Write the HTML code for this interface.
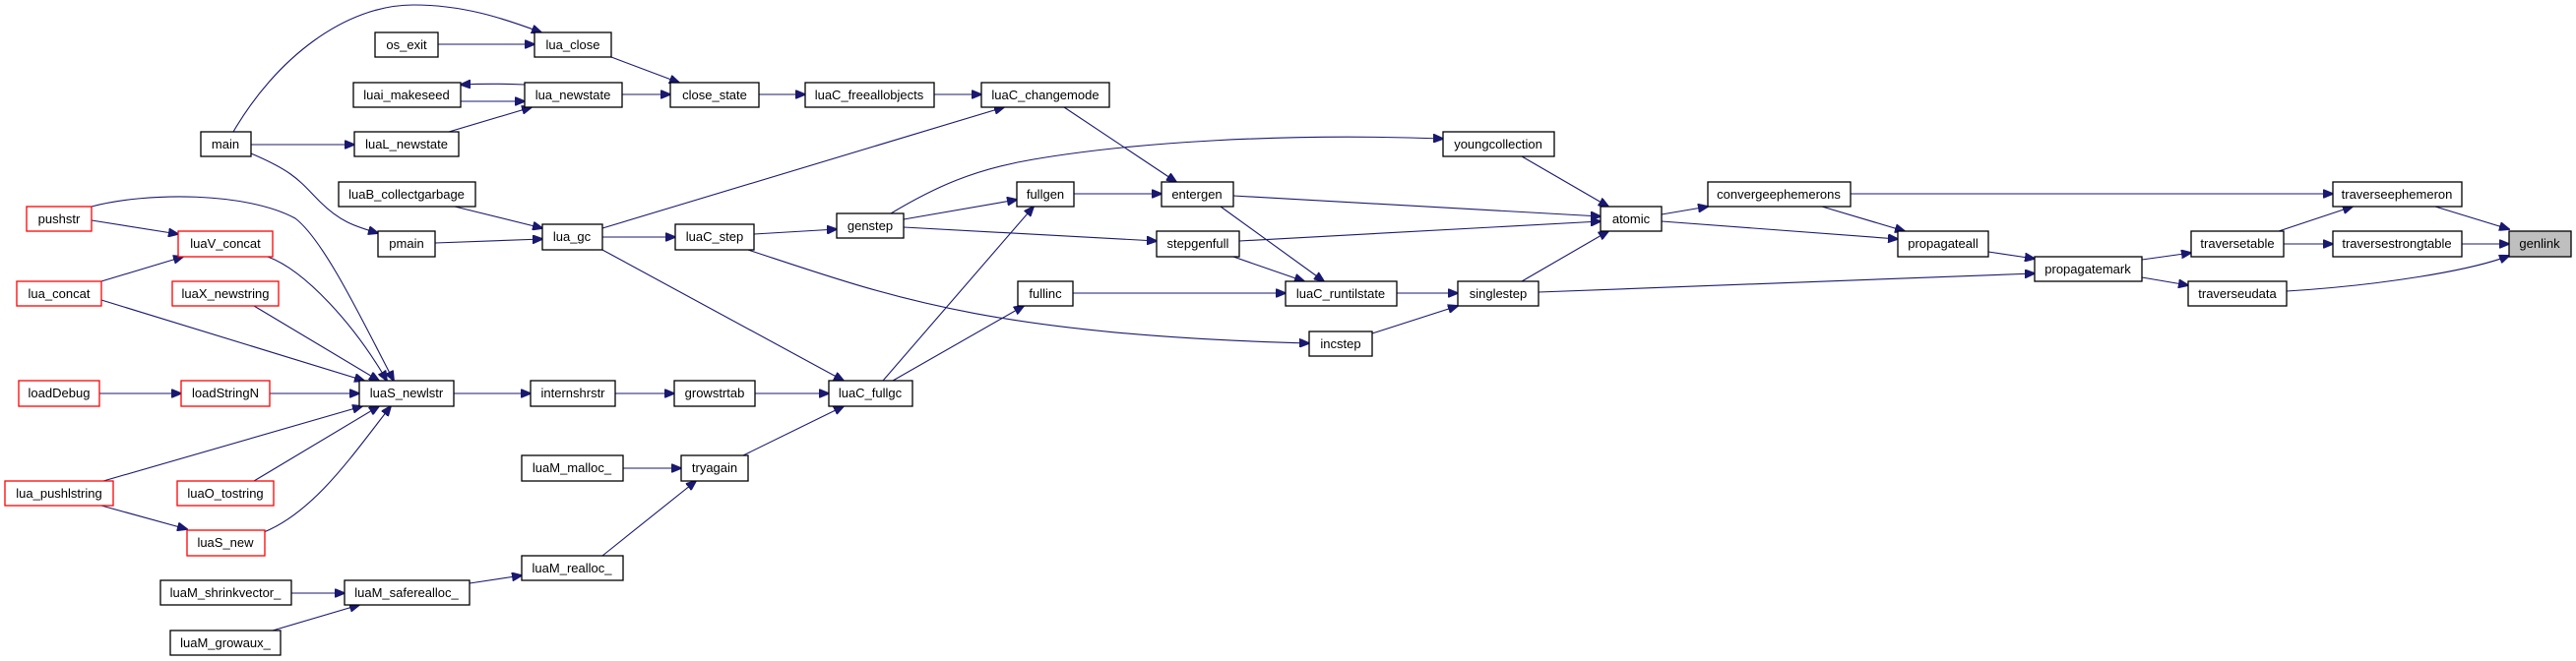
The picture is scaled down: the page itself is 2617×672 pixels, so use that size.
<!DOCTYPE html>
<html><head><meta charset="utf-8"><style>
html,body{margin:0;padding:0;background:#fff;}
svg{display:block}
text{font-family:"Liberation Sans",sans-serif;font-size:13px;fill:#000;text-anchor:middle}
.e{fill:none;stroke:#191970;stroke-width:1.1}
.n{fill:#fff;stroke:#000;stroke-width:1.3}
.r{fill:#fff;stroke:#ff0000;stroke-width:1.3}
</style></head><body>
<svg width="2617" height="672" viewBox="0 0 2617 672" xmlns="http://www.w3.org/2000/svg">
<defs><marker id="a" markerWidth="11" markerHeight="9" refX="10" refY="4.5" orient="auto" markerUnits="userSpaceOnUse"><path d="M0,0 L11,4.5 L0,9 z" fill="#191970" stroke="#191970"/></marker></defs>
<g marker-end="url(#a)">
<path class="e" d="M237,134 C280,60 350,5 420,5 C470,5 510,18 550,33"/>
<path class="e" d="M445,45 L543,45"/>
<path class="e" d="M533,86 C510,85 490,85 468,86"/>
<path class="e" d="M468,103 C490,103 510,103 533,103"/>
<path class="e" d="M456,134 L540,109"/>
<path class="e" d="M255,147 L360,147"/>
<path class="e" d="M255,156 C300,175 305,185 325,205 C345,225 360,230 384,237"/>
<path class="e" d="M621,58 L690,84"/>
<path class="e" d="M632,96 L681,96"/>
<path class="e" d="M771,96 L818,96"/>
<path class="e" d="M949,96 L997,96"/>
<path class="e" d="M612,232 L1020,109"/>
<path class="e" d="M1081,109 L1195,185"/>
<path class="e" d="M462,210 L551,232"/>
<path class="e" d="M442,247 L551,243"/>
<path class="e" d="M612,241 L686,241"/>
<path class="e" d="M612,254 L857,387"/>
<path class="e" d="M766,238 L850,233"/>
<path class="e" d="M760,254 C900,300 1000,340 1330,349"/>
<path class="e" d="M918,223 L1033,203"/>
<path class="e" d="M905,217 C950,190 990,172 1050,162 C1150,145 1300,135 1466,141"/>
<path class="e" d="M918,231 L1175,245"/>
<path class="e" d="M1253,199 L1626,220"/>
<path class="e" d="M1259,245 L1626,225"/>
<path class="e" d="M1091,197 L1180,197"/>
<path class="e" d="M1240,210 L1345,286"/>
<path class="e" d="M1253,261 L1325,286"/>
<path class="e" d="M1090,298 L1306,298"/>
<path class="e" d="M897,387 L1050,210"/>
<path class="e" d="M907,387 L1040,311"/>
<path class="e" d="M767,400 L842,400"/>
<path class="e" d="M755,463 L857,413"/>
<path class="e" d="M625,400 L685,400"/>
<path class="e" d="M461,400 L539,400"/>
<path class="e" d="M633,476 L692,476"/>
<path class="e" d="M612,565 L707,489"/>
<path class="e" d="M477,593 L530,585"/>
<path class="e" d="M296,603 L350,603"/>
<path class="e" d="M277,641 L365,615"/>
<path class="e" d="M1546,159 L1634,210"/>
<path class="e" d="M1688,218 L1735,210"/>
<path class="e" d="M1688,225 L1928,243"/>
<path class="e" d="M1851,210 L1935,235"/>
<path class="e" d="M1880,197 L2370,197"/>
<path class="e" d="M1419,298 L1481,298"/>
<path class="e" d="M1394,339 L1481,311"/>
<path class="e" d="M1546,286 L1634,235"/>
<path class="e" d="M1563,297 L2067,278"/>
<path class="e" d="M2020,256 L2067,263"/>
<path class="e" d="M2176,264 L2226,257"/>
<path class="e" d="M2176,282 L2223,290"/>
<path class="e" d="M2315,235 L2390,210"/>
<path class="e" d="M2320,248 L2370,248"/>
<path class="e" d="M2474,210 L2549,233"/>
<path class="e" d="M2501,248 L2549,248"/>
<path class="e" d="M2323,296 C2420,290 2510,275 2549,260"/>
<path class="e" d="M93,210 C150,195 250,195 300,222 C330,245 370,330 400,387"/>
<path class="e" d="M93,224 L181,238"/>
<path class="e" d="M103,286 L186,261"/>
<path class="e" d="M272,261 C310,275 360,330 393,387"/>
<path class="e" d="M103,305 L370,387"/>
<path class="e" d="M258,311 L385,387"/>
<path class="e" d="M101,400 L184,400"/>
<path class="e" d="M274,400 L365,400"/>
<path class="e" d="M105,489 L368,413"/>
<path class="e" d="M258,489 L385,413"/>
<path class="e" d="M268,541 C320,520 360,460 397,413"/>
<path class="e" d="M103,514 L190,538"/>
</g>
<g>
<rect class="n" x="381" y="33" width="64" height="25"/><text x="413" y="50">os_exit</text>
<rect class="n" x="543" y="33" width="78" height="25"/><text x="582" y="50">lua_close</text>
<rect class="n" x="359" y="84" width="109" height="25"/><text x="413" y="101">luai_makeseed</text>
<rect class="n" x="533" y="84" width="99" height="25"/><text x="582" y="101">lua_newstate</text>
<rect class="n" x="204" y="134" width="51" height="25"/><text x="229" y="151">main</text>
<rect class="n" x="360" y="134" width="106" height="25"/><text x="413" y="151">luaL_newstate</text>
<rect class="n" x="344" y="185" width="139" height="25"/><text x="413" y="202">luaB_collectgarbage</text>
<rect class="n" x="551" y="228" width="61" height="26"/><text x="581" y="245">lua_gc</text>
<rect class="n" x="384" y="235" width="58" height="26"/><text x="413" y="252">pmain</text>
<rect class="r" x="27" y="210" width="66" height="25"/><text x="60" y="227">pushstr</text>
<rect class="r" x="181" y="235" width="96" height="26"/><text x="229" y="252">luaV_concat</text>
<rect class="r" x="17" y="286" width="86" height="25"/><text x="60" y="303">lua_concat</text>
<rect class="r" x="175" y="286" width="108" height="25"/><text x="229" y="303">luaX_newstring</text>
<rect class="r" x="19" y="387" width="82" height="26"/><text x="60" y="404">loadDebug</text>
<rect class="r" x="184" y="387" width="90" height="26"/><text x="229" y="404">loadStringN</text>
<rect class="n" x="365" y="387" width="96" height="26"/><text x="413" y="404">luaS_newlstr</text>
<rect class="n" x="539" y="387" width="86" height="26"/><text x="582" y="404">internshrstr</text>
<rect class="n" x="530" y="463" width="103" height="26"/><text x="581" y="480">luaM_malloc_</text>
<rect class="r" x="5" y="489" width="110" height="25"/><text x="60" y="506">lua_pushlstring</text>
<rect class="r" x="180" y="489" width="98" height="25"/><text x="229" y="506">luaO_tostring</text>
<rect class="r" x="190" y="539" width="79" height="26"/><text x="229" y="556">luaS_new</text>
<rect class="n" x="530" y="565" width="103" height="25"/><text x="581" y="582">luaM_realloc_</text>
<rect class="n" x="163" y="590" width="133" height="25"/><text x="229" y="607">luaM_shrinkvector_</text>
<rect class="n" x="350" y="590" width="127" height="25"/><text x="413" y="607">luaM_saferealloc_</text>
<rect class="n" x="173" y="641" width="112" height="25"/><text x="229" y="658">luaM_growaux_</text>
<rect class="n" x="681" y="84" width="90" height="25"/><text x="726" y="101">close_state</text>
<rect class="n" x="818" y="84" width="131" height="25"/><text x="883" y="101">luaC_freeallobjects</text>
<rect class="n" x="997" y="84" width="130" height="25"/><text x="1062" y="101">luaC_changemode</text>
<rect class="n" x="1180" y="185" width="73" height="25"/><text x="1216" y="202">entergen</text>
<rect class="n" x="1033" y="185" width="58" height="25"/><text x="1062" y="202">fullgen</text>
<rect class="n" x="686" y="228" width="80" height="26"/><text x="726" y="245">luaC_step</text>
<rect class="n" x="850" y="217" width="68" height="25"/><text x="884" y="234">genstep</text>
<rect class="n" x="1175" y="235" width="84" height="26"/><text x="1217" y="252">stepgenfull</text>
<rect class="n" x="1034" y="286" width="56" height="25"/><text x="1062" y="303">fullinc</text>
<rect class="n" x="685" y="387" width="82" height="26"/><text x="726" y="404">growstrtab</text>
<rect class="n" x="842" y="387" width="85" height="26"/><text x="884" y="404">luaC_fullgc</text>
<rect class="n" x="692" y="463" width="68" height="26"/><text x="726" y="480">tryagain</text>
<rect class="n" x="1466" y="134" width="113" height="25"/><text x="1522" y="151">youngcollection</text>
<rect class="n" x="1626" y="210" width="62" height="25"/><text x="1657" y="227">atomic</text>
<rect class="n" x="1735" y="185" width="145" height="25"/><text x="1807" y="202">convergeephemerons</text>
<rect class="n" x="1306" y="286" width="113" height="25"/><text x="1362" y="303">luaC_runtilstate</text>
<rect class="n" x="1481" y="286" width="82" height="25"/><text x="1522" y="303">singlestep</text>
<rect class="n" x="1330" y="337" width="64" height="25"/><text x="1362" y="354">incstep</text>
<rect class="n" x="1928" y="235" width="92" height="26"/><text x="1974" y="252">propagateall</text>
<rect class="n" x="2370" y="185" width="131" height="25"/><text x="2435" y="202">traverseephemeron</text>
<rect class="n" x="2226" y="235" width="94" height="26"/><text x="2273" y="252">traversetable</text>
<rect class="n" x="2370" y="235" width="131" height="26"/><text x="2435" y="252">traversestrongtable</text>
<rect x="2549" y="235" width="63" height="26" fill="#bfbfbf" stroke="#000" stroke-width="1.3"/><text x="2580" y="252">genlink</text>
<rect class="n" x="2067" y="261" width="109" height="25"/><text x="2121" y="278">propagatemark</text>
<rect class="n" x="2223" y="286" width="100" height="25"/><text x="2273" y="303">traverseudata</text>
</g>
</svg>
</body></html>
